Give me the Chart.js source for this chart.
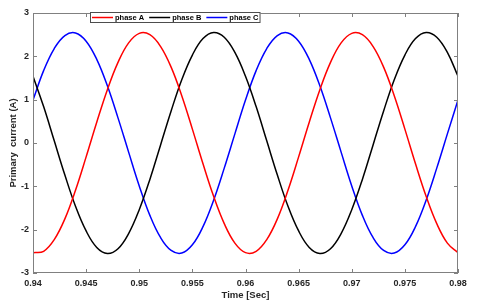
<!DOCTYPE html>
<html>
<head>
<meta charset="utf-8">
<script src="https://cdn.jsdelivr.net/npm/chart.js@4/dist/chart.umd.min.js"></script>
<style>
  html, body { margin: 0; padding: 0; background: #fff; }
  canvas { display: block; }
</style>
</head>
<body>
<canvas id="currentChart" width="480" height="304"></canvas>
<script>
// sample times (s) and the three primary currents (A)
var times = [0.940, 0.941, 0.942, 0.943, 0.944, 0.945, 0.946, 0.947, 0.948, 0.949,
             0.950, 0.951, 0.952, 0.953, 0.954, 0.955, 0.956, 0.957, 0.958, 0.959,
             0.960, 0.961, 0.962, 0.963, 0.964, 0.965, 0.966, 0.967, 0.968, 0.969,
             0.970, 0.971, 0.972, 0.973, 0.974, 0.975, 0.976, 0.977, 0.978, 0.979,
             0.980];

var phaseA = [-2.53, -2.50, -2.23, -1.75, -1.09, -0.32, 0.48, 1.23, 1.86, 2.31,
              2.53, 2.50, 2.23, 1.75, 1.09, 0.32, -0.48, -1.23, -1.86, -2.31,
              -2.53, -2.50, -2.23, -1.75, -1.09, -0.32, 0.48, 1.23, 1.86, 2.31,
              2.53, 2.50, 2.23, 1.75, 1.09, 0.32, -0.48, -1.23, -1.86, -2.31,
              -2.53];

var phaseB = [1.54, 0.84, 0.05, -0.74, -1.46, -2.03, -2.41, -2.55, -2.44, -2.09,
              -1.54, -0.84, -0.05, 0.74, 1.46, 2.03, 2.41, 2.55, 2.44, 2.09,
              1.54, 0.84, 0.05, -0.74, -1.46, -2.03, -2.41, -2.55, -2.44, -2.09,
              -1.54, -0.84, -0.05, 0.74, 1.46, 2.03, 2.41, 2.55, 2.44, 2.09,
              1.54];

var phaseC = [0.99, 1.67, 2.18, 2.48, 2.54, 2.35, 1.93, 1.32, 0.58, -0.21,
              -0.99, -1.67, -2.18, -2.48, -2.54, -2.35, -1.93, -1.32, -0.58, 0.21,
              0.99, 1.67, 2.18, 2.48, 2.54, 2.35, 1.93, 1.32, 0.58, -0.21,
              -0.99, -1.67, -2.18, -2.48, -2.54, -2.35, -1.93, -1.32, -0.58, 0.21,
              0.99];

var seriesNames = ['phase A', 'phase B', 'phase C'];
var seriesColors = ['#ff0000', '#000000', '#0000ff'];

var xMin = 0.94, xMax = 0.98, xStep = 0.005;
var yMin = -3, yMax = 3, yStep = 1;

Chart.defaults.font.family = "'Liberation Sans', Arial, sans-serif";
Chart.defaults.font.weight = 'bold';
Chart.defaults.color = '#262626';

function toPoints(ys) {
    return times.map(function (t, i) { return { x: t, y: ys[i] }; });
}

// box round the plot, inward ticks on all four sides, and the framed legend
var matlabFrame = {
    id: 'matlabFrame',
    afterDraw: function (chart) {
        var ctx = chart.ctx;
        var a = chart.chartArea;
        var sx = chart.scales.x, sy = chart.scales.y;
        var tick = 4;

        ctx.save();
        ctx.strokeStyle = '#808080';
        ctx.lineWidth = 1;
        ctx.strokeRect(a.left + 0.5, a.top + 0.5, a.right - a.left - 1, a.bottom - a.top - 1);

        ctx.beginPath();
        sx.ticks.forEach(function (t) {
            var px = Math.round(sx.getPixelForValue(t.value)) + 0.5;
            ctx.moveTo(px, a.bottom); ctx.lineTo(px, a.bottom - tick);
            ctx.moveTo(px, a.top); ctx.lineTo(px, a.top + tick);
        });
        sy.ticks.forEach(function (t) {
            var py = Math.round(sy.getPixelForValue(t.value)) + 0.5;
            ctx.moveTo(a.left, py); ctx.lineTo(a.left + tick, py);
            ctx.moveTo(a.right, py); ctx.lineTo(a.right - tick, py);
        });
        ctx.stroke();

        // legend
        var lx = 90, ly = 12, lh = 11, sample = 21, gap = 2, itemGap = 5;
        ctx.font = "bold 7.5px 'Liberation Sans', Arial, sans-serif";
        var widths = chart.data.datasets.map(function (d) { return ctx.measureText(d.label).width; });
        var lw = 2 + 2;
        widths.forEach(function (w, i) { lw += sample + gap + w + (i < widths.length - 1 ? itemGap : 0); });

        ctx.fillStyle = '#ffffff';
        ctx.fillRect(lx, ly, lw, lh);
        ctx.strokeStyle = '#4d4d4d';
        ctx.strokeRect(lx + 0.5, ly + 0.5, lw - 1, lh - 1);

        var cx = lx + 2, cy = ly + lh / 2;
        ctx.textBaseline = 'middle';
        ctx.textAlign = 'left';
        chart.data.datasets.forEach(function (d, i) {
            ctx.strokeStyle = d.borderColor;
            ctx.lineWidth = 1.5;
            ctx.beginPath();
            ctx.moveTo(cx, cy); ctx.lineTo(cx + sample, cy);
            ctx.stroke();
            ctx.fillStyle = '#000000';
            ctx.fillText(d.label, cx + sample + gap, cy + 0.5);
            cx += sample + gap + widths[i] + itemGap;
        });
        ctx.restore();
    }
};

var ctx = document.getElementById('currentChart').getContext('2d');
var currentChart = new Chart(ctx, {
    type: 'line',
    data: {
        datasets: [
            { label: seriesNames[0], data: toPoints(phaseA), borderColor: seriesColors[0] },
            { label: seriesNames[1], data: toPoints(phaseB), borderColor: seriesColors[1] },
            { label: seriesNames[2], data: toPoints(phaseC), borderColor: seriesColors[2] }
        ]
    },
    options: {
        responsive: false,
        animation: false,
        devicePixelRatio: 1,
        layout: { padding: { top: 13, right: 22, left: 0, bottom: 0 } },
        elements: {
            line: { borderWidth: 1.5, tension: 0.4, fill: false },
            point: { radius: 0 }
        },
        plugins: {
            legend: { display: false },
            tooltip: { enabled: false }
        },
        scales: {
            x: {
                type: 'linear',
                min: xMin,
                max: xMax,
                grid: { display: false, drawTicks: false },
                border: { display: false },
                ticks: {
                    stepSize: xStep,
                    padding: 5,
                    font: { size: 9, weight: 'bold' },
                    callback: function (v) { return parseFloat(v.toFixed(3)).toString(); }
                },
                title: {
                    display: true,
                    text: 'Time [Sec]',
                    font: { size: 9.5, weight: 'bold' },
                    padding: { top: 0, bottom: 3 }
                },
                afterFit: function (scale) { scale.height = 31; }
            },
            y: {
                min: yMin,
                max: yMax,
                grid: { display: false, drawTicks: false },
                border: { display: false },
                ticks: {
                    stepSize: yStep,
                    padding: 4,
                    font: { size: 9, weight: 'bold' }
                },
                title: {
                    display: true,
                    text: 'Primary  current (A)',
                    font: { size: 9.5, weight: 'bold' },
                    padding: { top: 8, bottom: 0 }
                },
                afterFit: function (scale) { scale.width = 33; }
            }
        }
    },
    plugins: [matlabFrame]
});
</script>
</body>
</html>
